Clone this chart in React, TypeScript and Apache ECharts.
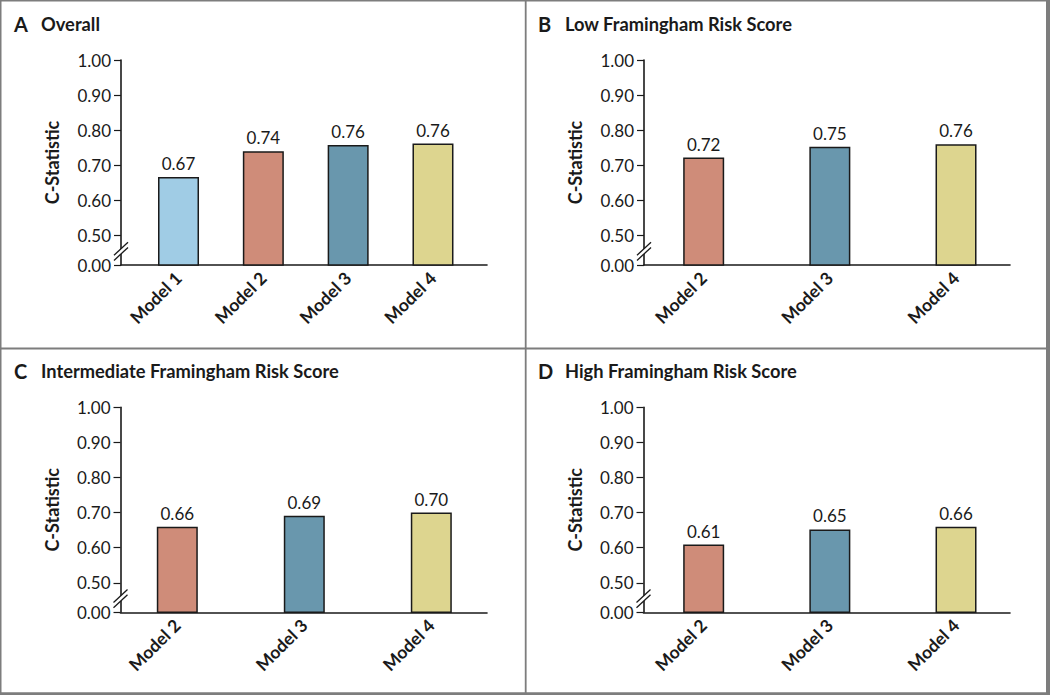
import React, { useEffect, useRef } from "react";
import * as echarts from "echarts";

// ---------- data ----------
const panelLetters = ["A", "B", "C", "D"];
const panelTitles = [
  "Overall",
  "Low Framingham Risk Score",
  "Intermediate Framingham Risk Score",
  "High Framingham Risk Score",
];
const overallCategories = ["Model 1", "Model 2", "Model 3", "Model 4"];
const subgroupCategories = ["Model 2", "Model 3", "Model 4"];
const overallValues = [0.667, 0.74, 0.758, 0.762];
const lowRiskValues = [0.722, 0.753, 0.76];
const intermediateRiskValues = [0.66, 0.691, 0.7];
const highRiskValues = [0.609, 0.652, 0.66];
// axis is broken between 0.00 and 0.50: the bottom position stands for 0.00
const axisBreakBottom = 0.416;
const yTickValues = [axisBreakBottom, 0.5, 0.6, 0.7, 0.8, 0.9, 1.0];
const yTickLabels = ["0.00", "0.50", "0.60", "0.70", "0.80", "0.90", "1.00"];
const yAxisTitle = "C-Statistic";

const modelColors: Record<string, string> = {
  "Model 1": "#a0cce5",
  "Model 2": "#cf8c79",
  "Model 3": "#6997ad",
  "Model 4": "#ddd58f",
};

const panelCategories = [overallCategories, subgroupCategories, subgroupCategories, subgroupCategories];
const panelValues = [overallValues, lowRiskValues, intermediateRiskValues, highRiskValues];

// ---------- layout ----------
const layouts = [
  { axisLeft: 121, axisRight: 487, top: 60, bottom: 265, barLeft: 136.1, barSpan: 339.3, titleX: 14, titleY: 24 },
  { axisLeft: 644, axisRight: 1010, top: 60, bottom: 265, barLeft: 640.6, barSpan: 378.5, titleX: 538, titleY: 24 },
  { axisLeft: 120.5, axisRight: 487, top: 407.3, bottom: 612.3, barLeft: 113.8, barSpan: 381, titleX: 14, titleY: 371 },
  { axisLeft: 643.5, axisRight: 1010, top: 407.3, bottom: 612.3, barLeft: 640.6, barSpan: 378.5, titleX: 538, titleY: 371 },
];

const FONT = "Lato";
const INK = "#1a1a1a";

function buildOption() {
  const grid: any[] = [];
  const xAxis: any[] = [];
  const yAxis: any[] = [];
  const series: any[] = [];

  layouts.forEach((L, i) => {
    const height = L.bottom - L.top;
    // visible axes grid
    grid.push({ left: L.axisLeft, top: L.top, width: L.axisRight - L.axisLeft, height });
    xAxis.push({
      type: "value",
      gridIndex: 2 * i,
      min: 0,
      max: 1,
      axisLine: { show: true, onZero: false, lineStyle: { color: INK, width: 1.6 } },
      axisTick: { show: false },
      axisLabel: { show: false },
      splitLine: { show: false },
    });
    yAxis.push({
      type: "value",
      gridIndex: 2 * i,
      min: axisBreakBottom,
      max: 1.0,
      name: yAxisTitle,
      nameLocation: "middle",
      nameRotate: 90,
      nameGap: 60,
      nameTextStyle: { fontFamily: FONT, fontWeight: "bold", fontSize: 18, color: INK },
      axisLine: { show: true, lineStyle: { color: INK, width: 1.6 } },
      axisTick: {
        show: true,
        length: 7,
        customValues: yTickValues,
        lineStyle: { color: INK, width: 1.2 },
      },
      axisLabel: {
        show: true,
        customValues: yTickValues,
        margin: 10,
        fontFamily: FONT,
        fontSize: 17,
        color: INK,
        formatter: (v: number) => {
          const idx = yTickValues.findIndex((t) => Math.abs(t - v) < 1e-6);
          return idx >= 0 ? yTickLabels[idx] : "";
        },
      },
      splitLine: { show: false },
    });

    // bars grid
    grid.push({ left: L.barLeft, top: L.top, width: L.barSpan, height });
    xAxis.push({
      type: "category",
      gridIndex: 2 * i + 1,
      data: panelCategories[i],
      axisLine: { show: false },
      axisTick: { show: false },
      axisLabel: {
        rotate: 45,
        margin: 10,
        fontFamily: FONT,
        fontWeight: "bold",
        fontSize: 17.5,
        color: INK,
      },
    });
    yAxis.push({
      type: "value",
      gridIndex: 2 * i + 1,
      min: axisBreakBottom,
      max: 1.0,
      show: false,
    });
    series.push({
      type: "bar",
      xAxisIndex: 2 * i + 1,
      yAxisIndex: 2 * i + 1,
      barWidth: 41,
      data: panelValues[i].map((v, j) => ({
        value: v,
        itemStyle: { color: modelColors[panelCategories[i][j]] },
      })),
      itemStyle: { borderColor: INK, borderWidth: 1.5 },
      label: {
        show: true,
        position: "top",
        distance: 5,
        fontFamily: FONT,
        fontSize: 17,
        color: INK,
        formatter: (p: any) => Number(p.value).toFixed(2),
      },
      z: 3,
    });
  });

  return { animation: false, backgroundColor: "#ffffff", grid, xAxis, yAxis, series };
}

export default function App() {
  const ref = useRef<HTMLDivElement>(null);

  useEffect(() => {
    if (!ref.current) return;
    const chart = echarts.init(ref.current, null, { renderer: "svg" });
    chart.setOption(buildOption());

    const BORDER = "#7d7d7d";
    const graphics: any[] = [
      { type: "line", shape: { x1: 0.75, y1: 0, x2: 0.75, y2: 695 }, style: { stroke: BORDER, lineWidth: 1.5 }, z: 10 },
      { type: "line", shape: { x1: 0, y1: 0.75, x2: 1050, y2: 0.75 }, style: { stroke: BORDER, lineWidth: 1.5 }, z: 10 },
      { type: "line", shape: { x1: 1048, y1: 0, x2: 1048, y2: 695 }, style: { stroke: BORDER, lineWidth: 4 }, z: 10 },
      { type: "line", shape: { x1: 0, y1: 693.6, x2: 1050, y2: 693.6 }, style: { stroke: BORDER, lineWidth: 2.8 }, z: 10 },
      { type: "line", shape: { x1: 525.7, y1: 0, x2: 525.7, y2: 695 }, style: { stroke: BORDER, lineWidth: 1.8 }, z: 10 },
      { type: "line", shape: { x1: 0, y1: 348.5, x2: 1050, y2: 348.5 }, style: { stroke: BORDER, lineWidth: 1.8 }, z: 10 },
    ];

    layouts.forEach((L, i) => {
      graphics.push({
        type: "text",
        x: L.titleX,
        y: L.titleY,
        style: {
          text: panelLetters[i],
          fontFamily: FONT,
          fontWeight: "bold",
          fontSize: 20,
          fill: INK,
          verticalAlign: "middle",
        },
        z: 10,
      });
      graphics.push({
        type: "text",
        x: L.titleX + 27,
        y: L.titleY,
        style: {
          text: panelTitles[i],
          fontFamily: FONT,
          fontWeight: "bold",
          fontSize: 18.3,
          fill: INK,
          verticalAlign: "middle",
        },
        z: 10,
      });

      // axis-break marks (//) between 0.00 and 0.50
      const mid = chart.convertToPixel({ gridIndex: 2 * i } as any, [0, 0.455]) as number[];
      const cx = mid[0];
      const cy = mid[1];
      const dx = 7;
      const dy = 6.5;
      const gap = 2.6;
      graphics.push({
        type: "polygon",
        shape: {
          points: [
            [cx - dx, cy + dy + gap],
            [cx + dx, cy - dy + gap],
            [cx + dx, cy - dy - gap],
            [cx - dx, cy + dy - gap],
          ],
        },
        style: { fill: "#ffffff" },
        z: 20,
      });
      [gap, -gap].forEach((off) => {
        graphics.push({
          type: "line",
          shape: { x1: cx - dx, y1: cy + dy + off, x2: cx + dx, y2: cy - dy + off },
          style: { stroke: INK, lineWidth: 1.3 },
          z: 21,
        });
      });
    });

    chart.setOption({ graphic: graphics });
    return () => chart.dispose();
  }, []);

  return (
    <div
      ref={ref}
      style={{ position: "absolute", left: 0, top: 0, width: 1050, height: 695, background: "#fff" }}
    />
  );
}
